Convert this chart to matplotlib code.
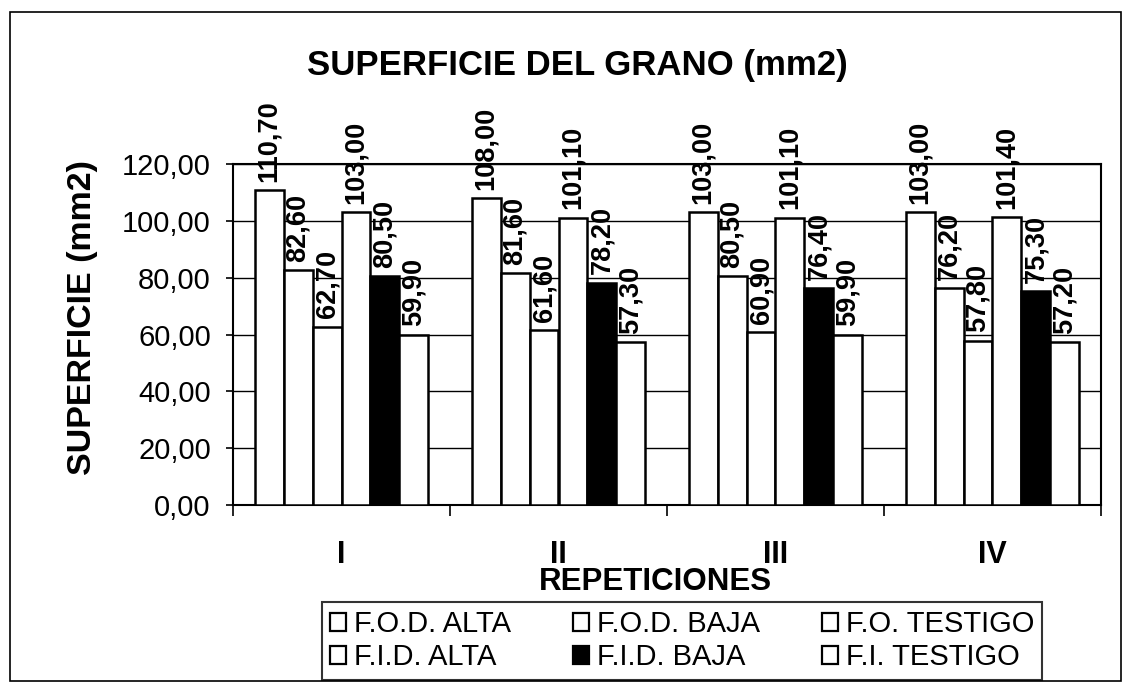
import matplotlib
matplotlib.use("Agg")
import matplotlib.pyplot as plt
import numpy as np
from matplotlib.patches import Rectangle, Patch

plt.rcParams['font.family'] = ['Liberation Sans', 'DejaVu Sans']

categories = ["I", "II", "III", "IV"]
series_names = ["F.O.D. ALTA", "F.O.D. BAJA", "F.O. TESTIGO",
                "F.I.D. ALTA", "F.I.D. BAJA", "F.I. TESTIGO"]
fod_alta = [110.70, 108.00, 103.00, 103.00]
fod_baja = [82.60, 81.60, 80.50, 76.20]
fo_testigo = [62.70, 61.60, 60.90, 57.80]
fid_alta = [103.00, 101.10, 101.10, 101.40]
fid_baja = [80.50, 78.20, 76.40, 75.30]
fi_testigo = [59.90, 57.30, 59.90, 57.20]
series_values = [fod_alta, fod_baja, fo_testigo, fid_alta, fid_baja, fi_testigo]
series_colors = ["white", "white", "white", "white", "black", "white"]
yticks = [0, 20, 40, 60, 80, 100, 120]

W, H = 1128, 683
fig = plt.figure(figsize=(W / 100, H / 100), dpi=100)

# outer border
fig.patches.append(Rectangle((10 / W, 1 - 681 / H), (1121 - 10) / W, (681 - 12) / H,
                             transform=fig.transFigure, fill=False,
                             edgecolor="black", linewidth=1.2))

ax_l, ax_r, ax_t, ax_b = 233, 1101, 164, 505
ax = fig.add_axes([ax_l / W, 1 - ax_b / H, (ax_r - ax_l) / W, (ax_b - ax_t) / H])

x = np.arange(len(categories))
n = len(series_values)
bw = 0.8 / n
for i, (vals, col, name) in enumerate(zip(series_values, series_colors, series_names)):
    pos = x - 0.4 + bw * (i + 0.5)
    ax.bar(pos, vals, width=bw, color=col, edgecolor="black",
           linewidth=1.8, zorder=3, label=name)
    for p, v in zip(pos, vals):
        ax.annotate(f"{v:.2f}".replace(".", ","), (p, v), xytext=(0, 6),
                    textcoords="offset points", rotation=90, ha="center",
                    va="bottom", fontsize=19.5, fontweight="bold", zorder=5,
                    annotation_clip=False)

ax.set_xlim(-0.5, len(categories) - 0.5)
ax.set_ylim(0, 120)
ax.set_yticks(yticks)
ax.set_yticklabels([f"{t:.2f}".replace(".", ",") for t in yticks], fontsize=21)
ax.tick_params(axis="y", direction="out", length=5, width=1.2, pad=11)
ax.yaxis.grid(True, color="black", linewidth=1.0, zorder=0)
ax.set_axisbelow(True)

ax.set_xticks(np.arange(len(categories) + 1) - 0.5)
ax.set_xticklabels([])
ax.tick_params(axis="x", which="major", direction="out", length=8, width=1.2)
ax.set_xticks(x, minor=True)
ax.set_xticklabels(categories, minor=True, fontsize=22, fontweight="bold")
ax.tick_params(axis="x", which="minor", length=0, pad=25)

for s in ax.spines.values():
    s.set_linewidth(1.5)
    s.set_color("black")

fig.text(577 / W, 1 - 75 / H, "SUPERFICIE DEL GRANO (mm2)", fontsize=25,
         fontweight="bold", ha="center", va="baseline")
fig.text(83 / W, 1 - 318 / H, "SUPERFICIE (mm2)", fontsize=24.5,
         fontweight="bold", rotation=90, ha="center", va="center")
fig.text(655 / W, 1 - 582 / H, "REPETICIONES", fontsize=22.5,
         fontweight="bold", ha="center", va="center")

order = [0, 3, 1, 4, 2, 5]
leg_handles = [Patch(facecolor=series_colors[k], edgecolor="black", linewidth=1.6)
               for k in order]
leg_labels = [series_names[k] for k in order]
leg = fig.legend(leg_handles, leg_labels, ncol=3, loc="upper left",
                 bbox_to_anchor=(322 / W, 1 - 602 / H), fontsize=21,
                 frameon=True, fancybox=False, edgecolor="black",
                 handlelength=0.55, handleheight=0.55, handletextpad=0.25,
                 columnspacing=2.15, labelspacing=0.18, borderpad=0.28,
                 borderaxespad=0)
leg.get_frame().set_linewidth(1.5)

fig.savefig("out.png", dpi=100)
